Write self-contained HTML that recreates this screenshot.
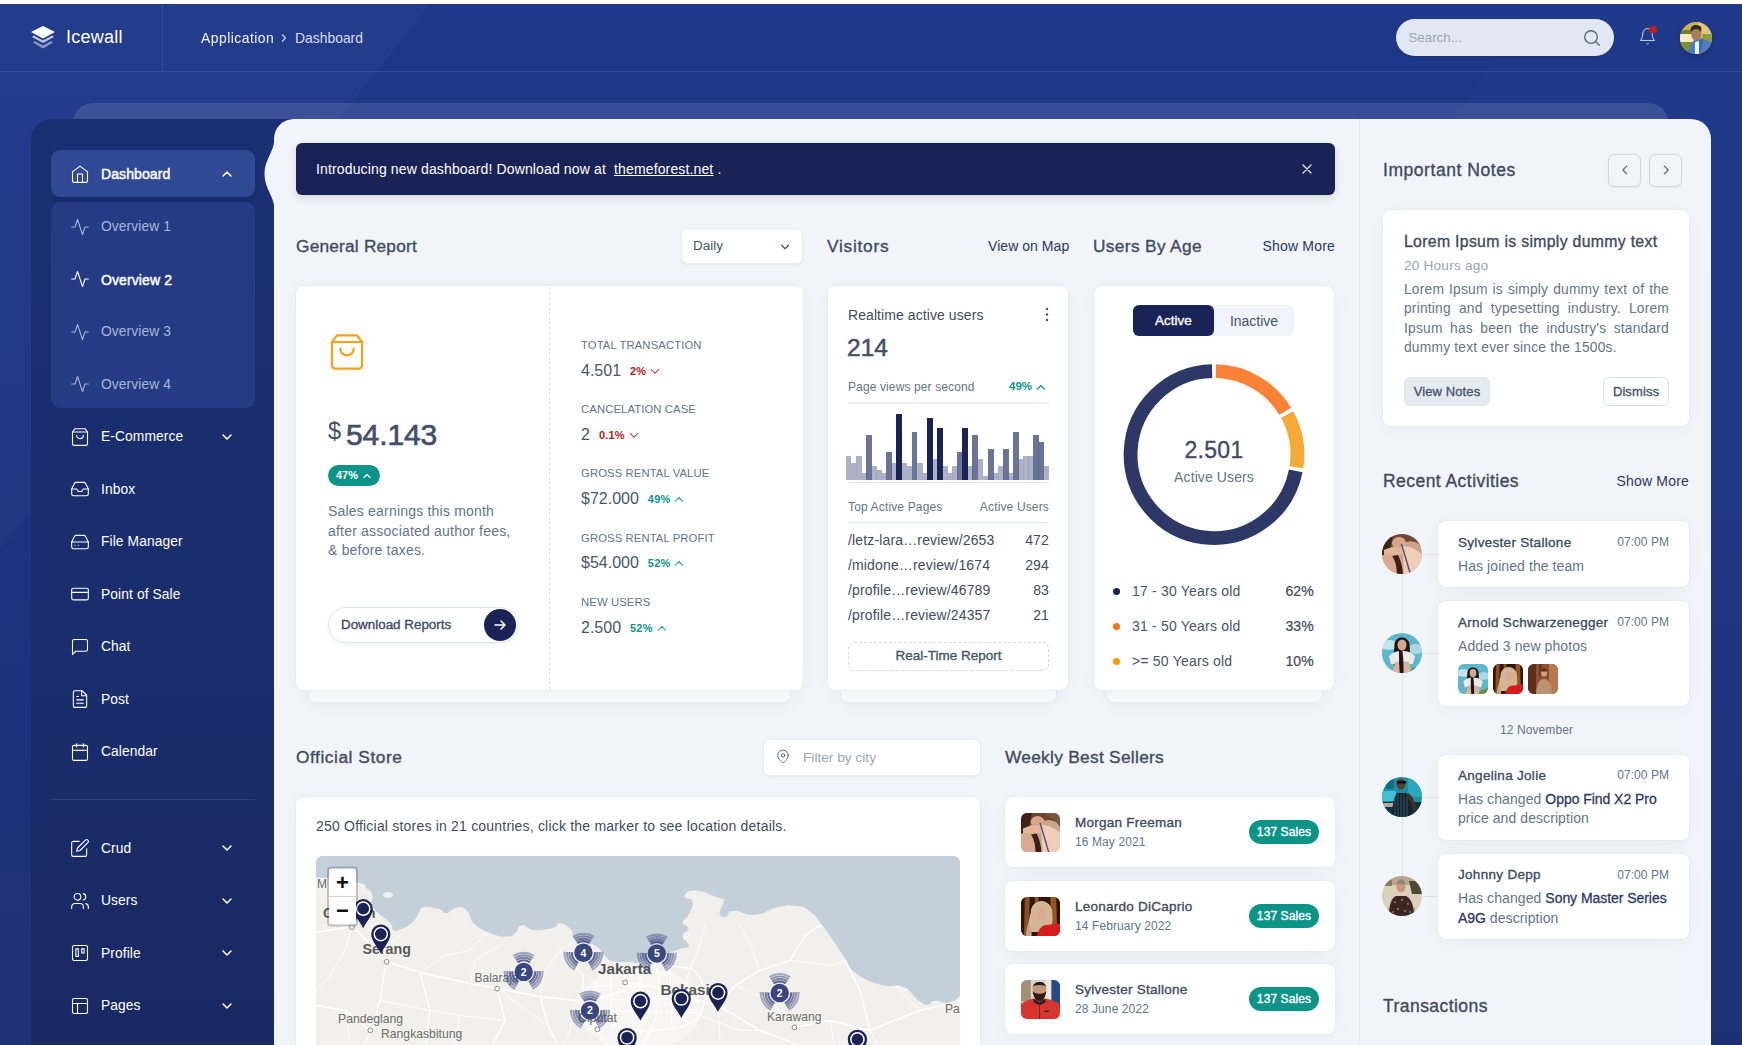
<!DOCTYPE html>
<html lang="en">
<head>
<meta charset="utf-8">
<title>Dashboard - Icewall</title>
<style>
*{box-sizing:border-box;margin:0;padding:0}
html,body{width:1742px;height:1045px;overflow:hidden}
body{font-family:"Liberation Sans",sans-serif;font-size:14px;color:#3c485a;background:#fff;position:relative}
.abs{position:absolute}
.bg{position:absolute;left:0;top:4px;width:1742px;height:1041px;background:linear-gradient(180deg,#1e388a 0%,#1e3583 45%,#1c2e73 100%);overflow:hidden}
.m{-webkit-text-stroke:0.35px currentColor}
.b{font-weight:bold}
/* top bar */
.topbar{position:absolute;left:0;top:4px;width:1742px;height:68px;border-bottom:1px solid rgba(255,255,255,.09)}
.logo{position:absolute;left:0;top:0;width:163px;height:67px;border-right:1px solid rgba(255,255,255,.09)}
.logo span{position:absolute;left:66px;top:22.3px;font-size:18px;color:#fff;letter-spacing:.25px;line-height:22px}
.crumb{position:absolute;top:25.5px;font-size:13.9px;line-height:16px;color:#fff;white-space:nowrap}
.search{position:absolute;left:1396px;top:14.6px;width:218px;height:37.2px;border-radius:19px;background:#e2e8f3;box-shadow:0 1px 2px rgba(0,0,0,.1)}
.search span{position:absolute;left:12.5px;top:11px;font-size:13.3px;line-height:16px;color:#9aa5b8}
/* panels */
.fake{position:absolute;left:73px;top:103px;width:1595px;height:40px;border-radius:20px 20px 0 0;background:rgba(255,255,255,.115)}
.side{position:absolute;left:31px;top:119px;width:300px;height:926px;border-radius:20px 0 0 0;background:linear-gradient(180deg,#1b3072 0%,#1a2d6c 60%,#192962 100%)}
.content{position:absolute;left:274px;top:119px;width:1437px;height:940px;border-radius:20px 20px 0 0;background:#f1f5f9}
.rcol{position:absolute;left:1359px;top:119px;width:1px;height:940px;background:#e3e9f1}
/* menu */
.mi{position:absolute;left:51px;width:204px;height:47px;border-radius:9px;color:#fff;font-size:14px}
.mi svg.ic{position:absolute;left:19px;top:14.2px;width:20px;height:20px;fill:none;stroke:currentColor;stroke-width:1.3;stroke-linecap:round;stroke-linejoin:round}
.mi span{position:absolute;left:50px;top:16.8px;line-height:16px;white-space:nowrap;font-size:13.8px;letter-spacing:.1px}
.mi span.b{font-weight:normal;font-size:14px;-webkit-text-stroke:.45px currentColor}
.mi svg.ch{position:absolute;left:168px;top:16px;width:16px;height:16px;fill:none;stroke:currentColor;stroke-width:1.5;stroke-linecap:round;stroke-linejoin:round}
.mi.act{background:#304995;box-shadow:0 3px 4px rgba(0,0,0,.08);margin-top:-1px}
.mi.act span{top:16px}.mi.act svg.ic{top:14px}.mi.act svg.ch{top:16px}
.mi.dim{color:#a9b4d6}
.sub{position:absolute;left:51px;top:202px;width:204px;height:206px;border-radius:9px;background:#253c85}
.hd{position:absolute;font-size:16.5px;line-height:20px;color:#3f4b5f;white-space:nowrap}
.lnk{position:absolute;font-size:14px;line-height:18px;color:#2b3765;white-space:nowrap}
.card{position:absolute;background:#fff;border-radius:8px;box-shadow:0 0 0 1px rgba(222,229,238,.45),0 3px 20px rgba(0,0,0,.04);border:1px solid transparent}
.stack{position:absolute;background:#f9fafc;border-radius:0 0 8px 8px;box-shadow:0 3px 20px rgba(0,0,0,.04);border:1px solid #e9edf3;border-top:none}
.t{position:absolute;white-space:nowrap}
</style>
</head>
<body>
<div class="bg">
<svg class="abs" style="left:0;top:0" width="1742" height="1041" viewBox="0 0 1742 1041">
<polygon points="0,0 430,0 0,545" fill="#ffffff" opacity=".022"/>
<polygon points="1528,0 1742,0 1742,1041 862,1041" fill="#ffffff" opacity=".012"/>
<rect x="0" y="868" width="31" height="180" fill="#8890a8" opacity=".045"/>
</svg>
</div>
<!-- TOPBAR -->
<div class="topbar">
 <div class="logo">
  <svg class="abs" style="left:30px;top:21px" width="26" height="26" viewBox="0 0 26 26">
   <polygon points="13,1 25,7 13,13.5 1,7" fill="#fff"/>
   <polygon points="3.6,10.6 13,15.6 22.4,10.6 24,12 13,18 2,12" fill="#fff" opacity=".72"/>
   <polygon points="4.6,16 13,20.4 21.4,16 23,17.4 13,23.4 3,17.4" fill="#fff" opacity=".48"/>
  </svg>
  <span>Icewall</span>
 </div>
 <div class="crumb" style="left:201px;opacity:.95;letter-spacing:.48px">Application</div>
 <svg class="abs" style="left:279px;top:28px;fill:none;stroke:#c7d0ea;stroke-width:1.3" width="10" height="12" viewBox="0 0 10 12"><path d="M3 2.5l3.5 3.5L3 9.5"/></svg>
 <div class="crumb" style="left:295px;color:#d5dcf0">Dashboard</div>
 <div class="search"><span>Search...</span>
  <svg class="abs" style="left:186px;top:9px;fill:none;stroke:#5b677b;stroke-width:1.35;stroke-linecap:round" width="20" height="20" viewBox="0 0 20 20"><circle cx="9" cy="9" r="6.3"/><path d="M13.7 13.7L17.3 17.3"/></svg>
 </div>
 <svg class="abs" style="left:1637.5px;top:23px;fill:none;stroke:#ccd5ee;stroke-width:1.25;stroke-linecap:round;stroke-linejoin:round" width="19" height="19" viewBox="0 0 24 24"><path d="M6 8a6 6 0 0 1 12 0c0 7 3 9 3 9H3s3-2 3-9"/><path d="M10.800 21a1.500 1.500 0 0 0 2.400 0"/></svg>
 <div class="abs" style="left:1648.800px;top:21.600px;width:7.800px;height:7.800px;border-radius:4px;background:#bf1e18"></div>
 <div class="abs" id="av0" style="left:1679.5px;top:17.500px;width:32px;height:32px;border-radius:16px;overflow:hidden;box-shadow:0 3px 8px rgba(0,0,0,.22)"><svg width="32" height="32" viewBox="0 0 32 32"><rect width="32" height="32" fill="#c9b552"/><rect x="18" y="0" width="14" height="14" fill="#e3c778"/><path d="M0 11c4-4 8-4 12-2v9H0z" fill="#6f7f25"/><rect x="0" y="12" width="14" height="8" fill="#f6ecbc"/><path d="M0 20h16v12H0z" fill="#7f8f2a"/><path d="M22 12h10v10h-8z" fill="#8aa03a"/><path d="M11 8c0-5 9-6 10-1c1 4 0 9-2 11h-5c-3-2-3-6-3-10z" fill="#a67c5c"/><path d="M10.500 8c0-5 8-7 11-2c0 2-1 3-1 4c-1-2-2-3-4-3c-3 0-4 1-5 3z" fill="#3a2b22"/><path d="M8 32c1-9 4-13 7-14l6-1c5 0 10 3 11 6v9z" fill="#4a7dc0"/><path d="M15 20l4-1 1 13h-5z" fill="#f2f4f8"/><path d="M19 18l4-2c-1 6-2 11-3 16h-1z" fill="#3a68a8"/></svg></div>
</div>
<!-- PANELS -->
<div class="fake"></div>
<div class="side"></div>
<div class="content"></div>
<div class="rcol"></div>
<svg width="0" height="0" style="position:absolute">
<defs>
<filter id="bl" x="-5%" y="-5%" width="110%" height="110%"><feGaussianBlur stdDeviation=".5"/></filter>
<symbol id="avA" viewBox="0 0 40 40"><rect width="40" height="40" fill="#caa58c"/><g filter="url(#bl)">
<path d="M-2 -2h44v16c-6-6-12-8-18-6C16 10 8 14 -2 17z" fill="#6a4631"/>
<path d="M-2 -2h14c-2 6-4 13-4 20l-10 5z" fill="#3d2216"/>
<ellipse cx="17" cy="9" rx="7" ry="6" fill="#d9a58a"/>
<path d="M2 16c8-4 18-4 26-2l-2 6c-8 0-16 1-24 4z" fill="#e3b69c"/>
<path d="M20 12c8 0 16 4 22 10v20H22c0-10-1-20-2-30z" fill="#efcdb6"/>
<path d="M26 2c6 2 12 8 16 16V-2H24z" fill="#7a5640"/>
<path d="M-2 22c5-2 10-2 13 0c2 6 3 12 3 20H-2z" fill="#d9aa90"/>
<path d="M10 22c3 4 5 10 5 20h6c0-8-2-15-5-21z" fill="#3a2016"/>
<path d="M19.500 10l9.500 32" stroke="#56567c" stroke-width="1.500"/></g></symbol>
<symbol id="avB" viewBox="0 0 40 40"><rect width="40" height="40" fill="#2e1409"/><g filter="url(#bl)">
<path d="M4 -2h5l-1 44H3z" fill="#a85c1e" opacity=".8"/><path d="M30 -2h6l1 32h-6z" fill="#b4641f" opacity=".8"/><path d="M14 -2h4v12h-4z" fill="#c9781f" opacity=".6"/>
<path d="M10 16c0-8 6-12 11-12s11 4 11 12c1 8 0 14-3 20H9c-2-6-1-14 1-20z" fill="#d2b796"/>
<path d="M8 26c2 4 3 9 3 16H5c0-6 1-12 3-16z" fill="#c4a786"/>
<ellipse cx="21" cy="17" rx="5" ry="6.500" fill="#dba892"/>
<path d="M16 42c1-7 4-12 8-13l18-2v15z" fill="#d81e1e"/></g></symbol>
<symbol id="avC" viewBox="0 0 40 40"><rect width="40" height="40" fill="#d6d1c8"/><g filter="url(#bl)">
<rect x="-2" y="-2" width="12" height="24" fill="#a58f78"/><rect x="31" y="-2" width="11" height="44" fill="#27468a"/><rect x="24" y="-2" width="7" height="22" fill="#ece7db"/>
<ellipse cx="19" cy="10" rx="7" ry="8" fill="#c69479"/>
<path d="M12 8c0-8 14-8 14 0l-1-2c-4-1-8-1-12 0z" fill="#2a1b16"/>
<path d="M12 11c1 8 4 11 7 11s6-3 7-11c-2 3-5 3-7 3s-5 0-7-3z" fill="#2b1c18"/>
<path d="M-2 42V26c5-4 10-6 15-7l6 3 6-3c5 1 11 3 17 7v16z" fill="#d8342f"/>
<path d="M13 19l6 4 6-4v4l-6 3-6-3z" fill="#23232d"/><path d="M19 25v17" stroke="#8e1c1c" stroke-width="1"/><path d="M24 32h5" stroke="#222" stroke-width="1.200"/></g></symbol>
<symbol id="av2" viewBox="0 0 40 40"><rect width="40" height="40" fill="#5fb7cb"/><g filter="url(#bl)">
<ellipse cx="7" cy="12" rx="9" ry="5" fill="#d4ecf1" opacity=".85"/><ellipse cx="34" cy="16" rx="8" ry="5" fill="#c4e3ea" opacity=".75"/>
<path d="M12.500 12c0-10 15-10 15 0c1 8 0 17-2 28h-4l1-17h-6l-1 19h-3c-1-10-1-21 0-30z" fill="#1f1513"/>
<ellipse cx="20" cy="12" rx="4.500" ry="5.500" fill="#d3a88f"/>
<path d="M7 23c4-4 8-5 13-5s9 1 13 5l-2 8H9z" fill="#ecebe7"/>
<path d="M13 29c4-1 9-1 14 0l3 13H10z" fill="#d9b39b"/>
<path d="M17 18c0 8 0 15 1 24h3.500c0-9 0-15-1-24z" fill="#1f1513"/>
<path d="M29 36l13-5v11H27z" fill="#6a8f4a"/></g></symbol>
<symbol id="av3" viewBox="0 0 40 40"><rect width="40" height="40" fill="#1a8fa3"/><g filter="url(#bl)">
<rect x="-2" y="14" width="16" height="10" fill="#3fc0d0"/><rect x="26" y="-2" width="16" height="22" fill="#2aa9bd"/><rect x="4" y="-2" width="8" height="14" fill="#0f6f82"/><rect x="-2" y="25" width="44" height="17" fill="#0d3640"/>
<rect x="-2" y="26" width="14" height="4" fill="#b9a89a"/>
<ellipse cx="19" cy="7" rx="4.500" ry="5.500" fill="#5b3a2a"/><path d="M15 4h9v2.600h-9z" fill="#111"/>
<path d="M10 42c0-11 1-20 5-26h9c4 3 6 8 7 14l-1 12z" fill="#14242c"/>
<path d="M26 16c4 2 7 8 8 16l-3 2c-1-6-3-11-6-14z" fill="#4a2e22"/>
<path d="M13 21v21M16 17v25M19 17v25M22 17v25M25 19v23" stroke="#3a6874" stroke-width=".8"/></g></symbol>
<symbol id="av4" viewBox="0 0 40 40"><rect width="40" height="40" fill="#dacfba"/><g filter="url(#bl)">
<rect x="-2" y="-2" width="44" height="11" fill="#b9a78c"/><path d="M27 5h15v13H30z" fill="#4f4a38"/><path d="M-2 4h12v6H-2z" fill="#8a7a60"/>
<ellipse cx="19" cy="10.500" rx="4.500" ry="5.500" fill="#c9977a"/><path d="M14.500 8c1-6 8-6 9 0z" fill="#8f857c"/>
<path d="M7 30l-2 12h5zM32 30l2 12h-5z" fill="#b88a70"/>
<path d="M7 42c0-13 2-20 7-22h10c5 2 8 9 8 22z" fill="#3a2620"/>
<circle cx="13" cy="26" r="1.300" fill="#8a5a40"/><circle cx="20" cy="24" r="1.300" fill="#4f7474"/><circle cx="26" cy="28" r="1.300" fill="#8a5a40"/><circle cx="16" cy="33" r="1.300" fill="#4f7474"/><circle cx="23" cy="35" r="1.300" fill="#8a5a40"/><circle cx="28" cy="36" r="1.200" fill="#4f7474"/><circle cx="11" cy="36" r="1.200" fill="#8a5a40"/></g></symbol>
<symbol id="th3" viewBox="0 0 30 30"><rect width="30" height="30" fill="#8e4f33"/><g filter="url(#bl)">
<rect x="-2" y="-2" width="10" height="34" fill="#5e2f1f"/><rect x="21" y="-2" width="11" height="34" fill="#b9794f"/><rect x="11" y="-2" width="3" height="14" fill="#6a3a25"/>
<ellipse cx="16" cy="9" rx="3" ry="3.600" fill="#d1a283"/><path d="M13.300 7.500c.7-4 5-4 5.700 0z" fill="#4a3020"/>
<path d="M8 32c0-11 3-17 8-17s8 6 8 17z" fill="#b89272"/></g></symbol>
</defs>
</svg>
<!--SIDEMENU-->
<svg class="abs" style="left:260px;top:139px" width="16" height="70" viewBox="0 0 16 70"><path d="M16 0H14.300C14.300 13 4.500 20 4.500 35C4.500 50 14.300 57 14.300 70H16z" fill="#f1f5f9"/></svg>
<div class="mi act" style="top:150.5px"><svg class="ic" viewBox="0 0 24 24"><path d="M3 9.5l9-7 9 7V20a2 2 0 0 1-2 2H5a2 2 0 0 1-2-2z"/><path d="M9 22V12h6v10"/></svg><span class="b">Dashboard</span><svg class="ch" viewBox="0 0 16 16"><path d="M4 10l4-4 4 4"/></svg></div>
<div class="sub"></div>
<div class="mi dim" style="top:202.4px"><svg class="ic" viewBox="0 0 24 24"><path d="M22 12h-4l-3 9L9 3l-3 9H2"/></svg><span>Overview 1</span></div>
<div class="mi " style="top:254.9px"><svg class="ic" viewBox="0 0 24 24"><path d="M22 12h-4l-3 9L9 3l-3 9H2"/></svg><span class="b">Overview 2</span></div>
<div class="mi dim" style="top:307.5px"><svg class="ic" viewBox="0 0 24 24"><path d="M22 12h-4l-3 9L9 3l-3 9H2"/></svg><span>Overview 3</span></div>
<div class="mi dim" style="top:360.0px"><svg class="ic" viewBox="0 0 24 24"><path d="M22 12h-4l-3 9L9 3l-3 9H2"/></svg><span>Overview 4</span></div>
<div class="mi " style="top:412.5px"><svg class="ic" viewBox="0 0 24 24"><path d="M6 2L3 6v14a2 2 0 0 0 2 2h14a2 2 0 0 0 2-2V6l-3-4z"/><path d="M3 6h18"/><path d="M16 10a4 4 0 0 1-8 0"/></svg><span>E-Commerce</span><svg class="ch" viewBox="0 0 16 16"><path d="M4 6l4 4 4-4"/></svg></div>
<div class="mi " style="top:465.0px"><svg class="ic" viewBox="0 0 24 24"><path d="M22 12h-6l-2 3h-4l-2-3H2"/><path d="M5.45 5.11L2 12v6a2 2 0 0 0 2 2h16a2 2 0 0 0 2-2v-6l-3.45-6.89A2 2 0 0 0 16.76 4H7.24a2 2 0 0 0-1.79 1.11z"/></svg><span>Inbox</span></div>
<div class="mi " style="top:517.5px"><svg class="ic" viewBox="0 0 24 24"><path d="M22 12H2"/><path d="M5.45 5.11L2 12v6a2 2 0 0 0 2 2h16a2 2 0 0 0 2-2v-6l-3.45-6.89A2 2 0 0 0 16.76 4H7.24a2 2 0 0 0-1.79 1.11z"/><path d="M6 16h.01"/><path d="M10 16h.01"/></svg><span>File Manager</span></div>
<div class="mi " style="top:570.1px"><svg class="ic" viewBox="0 0 24 24"><rect x="2" y="5" width="20" height="14" rx="2"/><path d="M2 10h20"/></svg><span>Point of Sale</span></div>
<div class="mi " style="top:622.6px"><svg class="ic" viewBox="0 0 24 24"><path d="M21 15a2 2 0 0 1-2 2H7l-4 4V5a2 2 0 0 1 2-2h14a2 2 0 0 1 2 2z"/></svg><span>Chat</span></div>
<div class="mi " style="top:675.1px"><svg class="ic" viewBox="0 0 24 24"><path d="M14.5 2H6a2 2 0 0 0-2 2v16a2 2 0 0 0 2 2h12a2 2 0 0 0 2-2V7.5z"/><path d="M14 2v6h6"/><path d="M16 13H8"/><path d="M16 17H8"/><path d="M10 9H8"/></svg><span>Post</span></div>
<div class="mi " style="top:727.6px"><svg class="ic" viewBox="0 0 24 24"><rect x="3" y="4" width="18" height="18" rx="2"/><path d="M16 2v4"/><path d="M8 2v4"/><path d="M3 10h18"/></svg><span>Calendar</span></div>
<div class="abs" style="left:51px;top:799px;width:204px;height:1px;background:rgba(255,255,255,.09)"></div>
<div class="mi " style="top:824.2px"><svg class="ic" viewBox="0 0 24 24"><path d="M11 4H4a2 2 0 0 0-2 2v14a2 2 0 0 0 2 2h14a2 2 0 0 0 2-2v-7"/><path d="M18.5 2.5a2.12 2.12 0 0 1 3 3L12 15l-4 1 1-4z"/></svg><span>Crud</span><svg class="ch" viewBox="0 0 16 16"><path d="M4 6l4 4 4-4"/></svg></div>
<div class="mi " style="top:876.7px"><svg class="ic" viewBox="0 0 24 24"><path d="M16 21v-2a4 4 0 0 0-4-4H6a4 4 0 0 0-4 4v2"/><circle cx="9" cy="7" r="4"/><path d="M22 21v-2a4 4 0 0 0-3-3.87"/><path d="M16 3.13a4 4 0 0 1 0 7.75"/></svg><span>Users</span><svg class="ch" viewBox="0 0 16 16"><path d="M4 6l4 4 4-4"/></svg></div>
<div class="mi " style="top:929.2px"><svg class="ic" viewBox="0 0 24 24"><rect x="3" y="3" width="18" height="18" rx="2"/><rect x="7" y="7" width="3" height="9"/><rect x="14" y="7" width="3" height="5"/></svg><span>Profile</span><svg class="ch" viewBox="0 0 16 16"><path d="M4 6l4 4 4-4"/></svg></div>
<div class="mi " style="top:981.7px"><svg class="ic" viewBox="0 0 24 24"><rect x="3" y="3" width="18" height="18" rx="2"/><path d="M3 9h18"/><path d="M9 21V9"/></svg><span>Pages</span><svg class="ch" viewBox="0 0 16 16"><path d="M4 6l4 4 4-4"/></svg></div>
<!--MAIN-->
<style>
.alert{position:absolute;left:296px;top:143px;width:1039px;height:52px;border-radius:6px;background:#192355;color:#fff;box-shadow:0 3px 8px rgba(0,0,0,.12)}
.lab{position:absolute;left:581px;font-size:11.3px;line-height:14px;color:#64748b;white-space:nowrap;letter-spacing:.1px}
.val{position:absolute;left:581px;font-size:16px;line-height:20px;color:#475569;margin-top:-.5px;white-space:nowrap}
.val b{font-size:11px;margin-left:9px;position:relative;top:-1px;letter-spacing:.2px}
.val svg{width:12px;height:12px;fill:none;stroke-width:1.4;stroke-linecap:round;stroke-linejoin:round;margin-left:3px;position:relative;top:1px}
.red{color:#b91c1c;stroke:#b91c1c}.grn{color:#0d9488;stroke:#0d9488}
.row{position:absolute;left:848px;width:201px;font-size:14px;line-height:18px;color:#3f4b5f;white-space:nowrap;letter-spacing:.15px}
.row i{position:absolute;right:0;top:0;font-style:normal}
.leg{position:absolute;left:1113px;width:201px;font-size:14px;line-height:18px;color:#475569;white-space:nowrap;letter-spacing:.2px}
.leg u{position:absolute;left:0;top:6px;width:7px;height:7px;border-radius:4px}
.leg span{position:absolute;left:19px;top:0}
.m2{-webkit-text-stroke:.22px currentColor}
.leg i{position:absolute;right:0;top:0;font-style:normal;color:#3f4b5f}
</style>
<div class="alert">
 <div class="t" style="left:20px;top:17px;font-size:14px;line-height:18px;letter-spacing:.14px">Introducing new dashboard! Download now at&nbsp; <span style="text-decoration:underline">themeforest.net</span>&nbsp;.</div>
 <svg class="abs" style="left:1005px;top:20px;fill:none;stroke:#e2e8f0;stroke-width:1.3;stroke-linecap:round" width="12" height="12" viewBox="0 0 12 12"><path d="M2 2l8 8M10 2l-8 8"/></svg>
</div>
<div class="hd m" style="left:296px;top:236px;font-size:17.3px;letter-spacing:.2px">General Report</div>
<div class="card" style="left:681px;top:228px;width:122px;height:36px;border-radius:6px;border-color:#e8ecf2;box-shadow:0 1px 3px rgba(0,0,0,.05)">
 <div class="t" style="left:11px;top:8px;font-size:13.5px;line-height:18px;color:#475569">Daily</div>
 <svg class="abs" style="left:96px;top:11px;fill:none;stroke:#475569;stroke-width:1.4;stroke-linecap:round;stroke-linejoin:round" width="14" height="14" viewBox="0 0 16 16"><path d="M4 6l4 4 4-4"/></svg>
</div>
<!-- general report card -->
<div class="stack" style="left:308px;top:682px;width:483px;height:21px"></div>
<div class="card" style="left:296px;top:286px;width:507px;height:404px">
 <div class="abs" style="left:252px;top:0;width:0;height:403px;border-left:1px dashed #dfe4ec"></div>
</div>
<svg class="abs" style="left:327px;top:332px;fill:none;stroke:#f5a11a;stroke-width:1.3;stroke-linecap:round;stroke-linejoin:round" width="40" height="40" viewBox="0 0 24 24"><path d="M6 2L3 6v14a2 2 0 0 0 2 2h14a2 2 0 0 0 2-2V6l-3-4z"/><path d="M3 6h18"/><path d="M16 10a4 4 0 0 1-8 0"/></svg>
<div class="t" style="left:328px;top:417px;font-size:23.5px;line-height:28px;color:#445069">$</div>
<div class="t" style="left:346px;top:418px;font-size:30px;line-height:34px;color:#445069;letter-spacing:-.1px;-webkit-text-stroke:.7px currentColor">54.143</div>
<div class="abs" style="left:328px;top:465px;width:52px;height:21px;border-radius:11px;background:#0d9488;color:#fff">
 <div class="t b" style="left:8px;top:4px;font-size:11px;line-height:13px">47%</div>
 <svg class="abs" style="left:33px;top:5px;fill:none;stroke:#fff;stroke-width:1.5;stroke-linecap:round;stroke-linejoin:round" width="12" height="12" viewBox="0 0 16 16"><path d="M4 10l4-4 4 4"/></svg>
</div>
<div class="t" style="left:328px;top:502px;font-size:14px;line-height:19.6px;color:#64748b;letter-spacing:.2px">Sales earnings this month<br>after associated author fees,<br>&amp; before taxes.</div>
<div class="abs" style="left:328px;top:607px;width:190px;height:36px;border-radius:18px;background:#fff;border:1px solid #e2e8f0;box-shadow:0 2px 4px rgba(0,0,0,.05)">
 <div class="t m" style="left:12px;top:8px;font-size:13.4px;line-height:18px;color:#3f4b5f">Download Reports</div>
 <div class="abs" style="left:155px;top:1px;width:32px;height:32px;border-radius:16px;background:#192355"></div>
 <svg class="abs" style="left:163px;top:9px;fill:none;stroke:#fff;stroke-width:1.5;stroke-linecap:round;stroke-linejoin:round" width="16" height="16" viewBox="0 0 16 16"><path d="M3 8h10M9 4l4 4-4 4"/></svg>
</div>
<div class="lab" style="top:338px">TOTAL TRANSACTION</div>
<div class="val" style="top:361px">4.501<b class="red">2%</b><svg class="red" viewBox="0 0 16 16"><path d="M3 6l5 5 5-5"/></svg></div>
<div class="lab" style="top:402px">CANCELATION CASE</div>
<div class="val" style="top:425px">2<b class="red">0.1%</b><svg class="red" viewBox="0 0 16 16"><path d="M3 6l5 5 5-5"/></svg></div>
<div class="lab" style="top:466px">GROSS RENTAL VALUE</div>
<div class="val" style="top:489px">$72.000<b class="grn">49%</b><svg class="grn" viewBox="0 0 16 16"><path d="M3 11l5-5 5 5"/></svg></div>
<div class="lab" style="top:530.5px">GROSS RENTAL PROFIT</div>
<div class="val" style="top:553.5px">$54.000<b class="grn">52%</b><svg class="grn" viewBox="0 0 16 16"><path d="M3 11l5-5 5 5"/></svg></div>
<div class="lab" style="top:595px">NEW USERS</div>
<div class="val" style="top:618px">2.500<b class="grn">52%</b><svg class="grn" viewBox="0 0 16 16"><path d="M3 11l5-5 5 5"/></svg></div>
<!-- visitors -->
<div class="hd m" style="left:827px;top:236px;font-size:17.3px;letter-spacing:.74px">Visitors</div>
<div class="lnk" style="left:988px;top:237px;letter-spacing:.05px">View on Map</div>
<div class="stack" style="left:840px;top:682px;width:217px;height:21px"></div>
<div class="card" style="left:828px;top:286px;width:240px;height:404px"></div>
<div class="t" style="left:848px;top:305.500px;font-size:14px;line-height:18px;color:#3f4b5f;letter-spacing:.08px">Realtime active users</div>
<svg class="abs" style="left:1044px;top:307px" width="6" height="16" viewBox="0 0 6 16" fill="#475569"><circle cx="3" cy="2" r="1.2"/><circle cx="3" cy="7.5" r="1.2"/><circle cx="3" cy="13" r="1.2"/></svg>
<div class="t" style="left:847px;top:334px;font-size:24.500px;line-height:28px;color:#445069;-webkit-text-stroke:.55px currentColor">214</div>
<div class="t" style="left:848px;top:380px;font-size:12px;line-height:15px;color:#64748b;letter-spacing:.12px">Page views per second</div>
<div class="t b grn" style="left:1009px;top:379px;font-size:11.5px;line-height:15px">49%</div>
<svg class="abs grn" style="left:1035px;top:381px;fill:none;stroke-width:1.5;stroke-linecap:round;stroke-linejoin:round" width="12" height="12" viewBox="0 0 16 16"><path d="M3 11l5-5 5 5"/></svg>
<div class="abs" style="left:848px;top:402px;width:201px;height:2px;background:#edf1f6"></div>
<svg class="abs" style="left:0;top:0" width="1742" height="1045" viewBox="0 0 1742 1045" shape-rendering="crispEdges"><rect x="845.60" y="456.12" width="5.88" height="23.88" fill="#a3a9c0" opacity="0.9"/><rect x="850.68" y="463.01" width="5.88" height="16.99" fill="#a3a9c0" opacity="0.9"/><rect x="855.75" y="456.12" width="5.88" height="23.88" fill="#a3a9c0" opacity="0.9"/><rect x="860.83" y="472.96" width="5.88" height="7.04" fill="#a3a9c0" opacity="0.9"/><rect x="870.98" y="466.22" width="5.88" height="13.78" fill="#a3a9c0" opacity="0.9"/><rect x="876.05" y="469.59" width="5.88" height="10.41" fill="#a3a9c0" opacity="0.9"/><rect x="881.12" y="472.96" width="5.88" height="7.04" fill="#a3a9c0" opacity="0.9"/><rect x="891.27" y="463.01" width="5.88" height="16.99" fill="#a3a9c0" opacity="0.9"/><rect x="901.43" y="463.01" width="5.88" height="16.99" fill="#a3a9c0" opacity="0.9"/><rect x="906.50" y="466.22" width="5.88" height="13.78" fill="#a3a9c0" opacity="0.9"/><rect x="916.65" y="463.01" width="5.88" height="16.99" fill="#a3a9c0" opacity="0.9"/><rect x="921.73" y="472.96" width="5.88" height="7.04" fill="#a3a9c0" opacity="0.9"/><rect x="931.88" y="459.34" width="5.88" height="20.66" fill="#a3a9c0" opacity="0.9"/><rect x="942.02" y="466.22" width="5.88" height="13.78" fill="#a3a9c0" opacity="0.9"/><rect x="947.10" y="472.96" width="5.88" height="7.04" fill="#a3a9c0" opacity="0.9"/><rect x="952.18" y="466.22" width="5.88" height="13.78" fill="#a3a9c0" opacity="0.9"/><rect x="967.40" y="466.22" width="5.88" height="13.78" fill="#a3a9c0" opacity="0.9"/><rect x="977.55" y="459.34" width="5.88" height="20.66" fill="#a3a9c0" opacity="0.9"/><rect x="982.62" y="476.48" width="5.88" height="3.52" fill="#a3a9c0" opacity="0.9"/><rect x="992.77" y="472.96" width="5.88" height="7.04" fill="#a3a9c0" opacity="0.9"/><rect x="997.85" y="466.22" width="5.88" height="13.78" fill="#a3a9c0" opacity="0.9"/><rect x="1008.00" y="472.96" width="5.88" height="7.04" fill="#a3a9c0" opacity="0.9"/><rect x="1018.15" y="459.34" width="5.88" height="20.66" fill="#a3a9c0" opacity="0.9"/><rect x="1023.23" y="456.12" width="5.88" height="23.88" fill="#a3a9c0" opacity="0.9"/><rect x="1028.30" y="456.12" width="5.88" height="23.88" fill="#a3a9c0" opacity="0.9"/><rect x="1043.52" y="466.22" width="5.88" height="13.78" fill="#a3a9c0" opacity="0.9"/><rect x="865.90" y="435.15" width="5.88" height="44.85" fill="#5d678f" opacity="0.92"/><rect x="886.20" y="452.45" width="5.88" height="27.55" fill="#5d678f" opacity="0.92"/><rect x="911.58" y="431.78" width="5.88" height="48.22" fill="#5d678f" opacity="0.92"/><rect x="957.25" y="452.45" width="5.88" height="27.55" fill="#5d678f" opacity="0.92"/><rect x="972.48" y="435.15" width="5.88" height="44.85" fill="#5d678f" opacity="0.92"/><rect x="987.70" y="449.08" width="5.88" height="30.92" fill="#5d678f" opacity="0.92"/><rect x="1002.93" y="449.08" width="5.88" height="30.92" fill="#5d678f" opacity="0.92"/><rect x="1013.08" y="431.78" width="5.88" height="48.22" fill="#5d678f" opacity="0.92"/><rect x="1033.38" y="435.15" width="5.88" height="44.85" fill="#5d678f" opacity="0.92"/><rect x="1038.45" y="442.04" width="5.88" height="37.96" fill="#5d678f" opacity="0.92"/><rect x="896.35" y="414.18" width="5.88" height="65.82" fill="#192355" opacity="1"/><rect x="926.80" y="418.01" width="5.88" height="61.99" fill="#192355" opacity="1"/><rect x="936.95" y="428.26" width="5.88" height="51.74" fill="#192355" opacity="1"/><rect x="962.33" y="428.26" width="5.88" height="51.74" fill="#192355" opacity="1"/></svg>
<div class="abs" style="left:848px;top:482px;width:201px;height:1px;background:#dfe5ee"></div>
<div class="t" style="left:848px;top:499.500px;font-size:12px;line-height:15px;color:#64748b;letter-spacing:.15px">Top Active Pages</div>
<div class="t" style="left:949px;width:100px;text-align:right;top:499.500px;font-size:12px;line-height:15px;color:#64748b;letter-spacing:.15px">Active Users</div>
<div class="abs" style="left:848px;top:522px;width:201px;height:1px;background:#e2e8f0"></div>
<div class="row" style="top:530.7px">/letz-lara…review/2653<i>472</i></div>
<div class="row" style="top:555.7px">/midone…review/1674<i>294</i></div>
<div class="row" style="top:580.7px">/profile…review/46789<i>83</i></div>
<div class="row" style="top:605.7px">/profile…review/24357<i>21</i></div>
<div class="abs" style="left:848px;top:642px;width:201px;height:29px;border:1px dashed #d5dbe5;border-radius:6px"></div>
<div class="t m" style="left:848px;width:201px;text-align:center;top:647px;font-size:13.5px;line-height:18px;color:#475569">Real-Time Report</div>
<!-- users by age -->
<div class="hd m" style="left:1093px;top:236px;font-size:17.3px;letter-spacing:.35px">Users By Age</div>
<div class="lnk" style="left:1235px;width:100px;text-align:right;top:237px;letter-spacing:.2px">Show More</div>
<div class="stack" style="left:1106px;top:682px;width:217px;height:21px"></div>
<div class="card" style="left:1094px;top:286px;width:240px;height:404px"></div>
<div class="abs" style="left:1133px;top:305px;width:161px;height:31px;border-radius:6px;background:#f1f5f9"></div>
<div class="abs" style="left:1133px;top:305px;width:81px;height:31px;border-radius:6px;background:#192355"></div>
<div class="t m" style="left:1133px;width:81px;text-align:center;top:311.500px;font-size:13.5px;line-height:18px;color:#fff">Active</div>
<div class="t" style="left:1214px;width:80px;text-align:center;top:311.500px;font-size:14px;line-height:18px;color:#475569">Inactive</div>
<svg class="abs" style="left:0;top:0" width="1742" height="1045" viewBox="0 0 1742 1045"><path d="M1215.89 371.22A83.4 83.4 0 0 1 1285.26 411.27" stroke="#fa8237" stroke-width="13.8" fill="none"/><path d="M1287.15 414.55A83.4 83.4 0 0 1 1296.44 467.22" stroke="#f6a934" stroke-width="13.8" fill="none"/><path d="M1295.78 470.94A83.4 83.4 0 1 1 1212.11 371.22" stroke="#2e3866" stroke-width="13.8" fill="none"/></svg>
<div class="t m" style="left:1164px;width:100px;text-align:center;top:436px;font-size:23px;line-height:28px;color:#3f4b5f;letter-spacing:.3px">2.501</div>
<div class="t" style="left:1164px;width:100px;text-align:center;top:468px;font-size:14px;line-height:18px;color:#64748b;letter-spacing:.1px">Active Users</div>
<div class="leg" style="top:581.500px"><u style="background:#192355"></u><span>17 - 30 Years old</span><i class="m2">62%</i></div>
<div class="leg" style="top:616.500px"><u style="background:#f97316"></u><span>31 - 50 Years old</span><i class="m2">33%</i></div>
<div class="leg" style="top:651.500px"><u style="background:#f59e0b"></u><span>&gt;= 50 Years old</span><i class="m2">10%</i></div>
<!-- official store -->
<div class="hd m" style="left:296px;top:747px;font-size:17.3px;letter-spacing:.56px">Official Store</div>
<div class="card" style="left:763px;top:739px;width:218px;height:37px;border-radius:6px;border-color:#e8ecf2;box-shadow:0 1px 3px rgba(0,0,0,.05)">
 <svg class="abs" style="left:12px;top:9px;fill:none;stroke:#5b677b;stroke-width:1.7;stroke-linecap:round;stroke-linejoin:round" width="14" height="15" viewBox="0 0 24 24"><path d="M21 10c0 7-9 13-9 13s-9-6-9-13a9 9 0 0 1 18 0z"/><circle cx="12" cy="10" r="3"/></svg>
 <div class="t" style="left:39px;top:8.5px;font-size:13.7px;line-height:18px;color:#9aa6b8">Filter by city</div>
</div>
<div class="card" style="left:296px;top:797px;width:684px;height:260px"></div>
<div class="t" style="left:316px;top:817px;font-size:14px;line-height:18px;color:#3f4b5f;letter-spacing:.2px">250 Official stores in 21 countries, click the marker to see location details.</div>
<svg class="abs" style="left:316px;top:855.6px;border-radius:6px 6px 0 0" width="644" height="190" viewBox="316 855.6 644 190"><rect x="310" y="850" width="660" height="200" fill="#c3d0da"/><clipPath id="land"><path d="M316.1 876.5C327.1 878.0 343.8 879.2 357.4 882.2C370.9 885.2 362.8 884.3 366.8 887.9C370.9 891.4 371.0 890.4 372.5 895.5C374.0 900.5 368.0 899.8 372.5 906.8C377.1 913.9 384.0 915.9 389.6 922.0C395.1 928.0 390.3 927.8 393.3 929.6C396.4 931.3 395.9 930.6 400.9 928.6C406.0 926.6 407.5 926.3 412.3 922.0C417.1 917.7 415.9 916.6 418.9 912.5C422.0 908.5 418.4 907.8 423.7 906.8C429.0 905.8 432.8 907.2 438.8 908.7C444.9 910.2 441.3 913.0 446.4 912.5C451.4 912.0 452.2 907.3 457.8 906.8C463.3 906.3 462.7 906.1 467.2 910.6C471.8 915.2 468.2 917.8 474.8 923.9C481.4 929.9 483.3 930.1 491.9 933.3C500.4 936.6 500.9 936.2 507.0 936.2C513.1 936.2 510.5 936.4 514.6 933.3C518.6 930.3 517.1 925.8 522.2 924.8C527.2 923.8 525.4 928.8 533.5 929.6C541.6 930.3 545.4 929.4 552.5 927.7C559.5 925.9 555.0 922.4 560.0 922.9C565.1 923.4 567.4 925.3 571.4 929.6C575.5 933.9 569.1 935.0 575.2 939.0C581.3 943.1 586.1 940.2 594.1 944.7C602.2 949.3 600.5 951.8 605.5 956.1C610.6 960.4 606.0 959.3 613.1 960.8C620.2 962.3 625.4 961.4 632.0 961.8C638.6 962.1 625.9 965.5 637.8 962.2C649.8 959.0 663.3 954.0 676.8 949.5C690.4 945.1 687.0 949.3 688.5 945.6C690.1 942.0 682.7 940.6 682.7 935.9C682.7 931.2 688.5 931.7 688.5 928.1C688.5 924.4 682.7 925.9 682.7 922.2C682.7 918.6 685.9 920.1 688.5 914.4C691.2 908.7 693.5 905.4 692.5 900.7C691.4 896.1 684.1 899.7 684.6 896.8C685.2 894.0 685.0 889.7 694.4 890.0C703.8 890.3 712.0 895.0 719.8 897.8C727.6 900.7 723.7 896.8 723.7 900.7C723.7 904.6 719.3 908.3 719.8 912.5C720.3 916.6 722.0 916.9 725.6 916.4C729.3 915.8 725.6 911.0 733.4 910.5C741.2 910.0 742.9 915.4 754.9 914.4C766.9 913.4 767.4 908.9 778.3 906.6C789.3 904.3 787.6 904.6 795.9 905.6C804.2 906.7 802.3 905.0 809.5 910.5C816.8 916.0 817.0 918.3 823.2 926.1C829.5 933.9 827.2 931.4 833.0 939.8C838.7 948.1 838.4 948.5 844.7 957.3C850.9 966.2 846.5 965.7 856.4 973.0C866.3 980.2 869.3 981.0 881.8 984.7C894.2 988.3 893.3 982.4 903.2 986.6C913.1 990.8 912.1 995.6 918.8 1000.3C925.6 1005.0 924.4 1004.2 928.6 1004.2C932.8 1004.2 928.7 1000.8 934.4 1000.3C940.2 999.8 942.8 1004.0 950.1 1002.2C957.3 1000.4 958.6 995.8 961.8 993.4 L970 1050 L310 1050 L310 876.5Z"/></clipPath><path d="M316.1 876.5C327.1 878.0 343.8 879.2 357.4 882.2C370.9 885.2 362.8 884.3 366.8 887.9C370.9 891.4 371.0 890.4 372.5 895.5C374.0 900.5 368.0 899.8 372.5 906.8C377.1 913.9 384.0 915.9 389.6 922.0C395.1 928.0 390.3 927.8 393.3 929.6C396.4 931.3 395.9 930.6 400.9 928.6C406.0 926.6 407.5 926.3 412.3 922.0C417.1 917.7 415.9 916.6 418.9 912.5C422.0 908.5 418.4 907.8 423.7 906.8C429.0 905.8 432.8 907.2 438.8 908.7C444.9 910.2 441.3 913.0 446.4 912.5C451.4 912.0 452.2 907.3 457.8 906.8C463.3 906.3 462.7 906.1 467.2 910.6C471.8 915.2 468.2 917.8 474.8 923.9C481.4 929.9 483.3 930.1 491.9 933.3C500.4 936.6 500.9 936.2 507.0 936.2C513.1 936.2 510.5 936.4 514.6 933.3C518.6 930.3 517.1 925.8 522.2 924.8C527.2 923.8 525.4 928.8 533.5 929.6C541.6 930.3 545.4 929.4 552.5 927.7C559.5 925.9 555.0 922.4 560.0 922.9C565.1 923.4 567.4 925.3 571.4 929.6C575.5 933.9 569.1 935.0 575.2 939.0C581.3 943.1 586.1 940.2 594.1 944.7C602.2 949.3 600.5 951.8 605.5 956.1C610.6 960.4 606.0 959.3 613.1 960.8C620.2 962.3 625.4 961.4 632.0 961.8C638.6 962.1 625.9 965.5 637.8 962.2C649.8 959.0 663.3 954.0 676.8 949.5C690.4 945.1 687.0 949.3 688.5 945.6C690.1 942.0 682.7 940.6 682.7 935.9C682.7 931.2 688.5 931.7 688.5 928.1C688.5 924.4 682.7 925.9 682.7 922.2C682.7 918.6 685.9 920.1 688.5 914.4C691.2 908.7 693.5 905.4 692.5 900.7C691.4 896.1 684.1 899.7 684.6 896.8C685.2 894.0 685.0 889.7 694.4 890.0C703.8 890.3 712.0 895.0 719.8 897.8C727.6 900.7 723.7 896.8 723.7 900.7C723.7 904.6 719.3 908.3 719.8 912.5C720.3 916.6 722.0 916.9 725.6 916.4C729.3 915.8 725.6 911.0 733.4 910.5C741.2 910.0 742.9 915.4 754.9 914.4C766.9 913.4 767.4 908.9 778.3 906.6C789.3 904.3 787.6 904.6 795.9 905.6C804.2 906.7 802.3 905.0 809.5 910.5C816.8 916.0 817.0 918.3 823.2 926.1C829.5 933.9 827.2 931.4 833.0 939.8C838.7 948.1 838.4 948.5 844.7 957.3C850.9 966.2 846.5 965.7 856.4 973.0C866.3 980.2 869.3 981.0 881.8 984.7C894.2 988.3 893.3 982.4 903.2 986.6C913.1 990.8 912.1 995.6 918.8 1000.3C925.6 1005.0 924.4 1004.2 928.6 1004.2C932.8 1004.2 928.7 1000.8 934.4 1000.3C940.2 999.8 942.8 1004.0 950.1 1002.2C957.3 1000.4 958.6 995.8 961.8 993.4 L970 1050 L310 1050 L310 876.5Z" fill="#f1f0ed"/><ellipse cx="388" cy="894.500" rx="5" ry="3" fill="#f1f0ed"/><ellipse cx="640" cy="1008" rx="62" ry="42" fill="#fbfbfa" opacity=".55"/><g clip-path="url(#land)"><path d="M352 926 L345 950 L330 975 L316 990" fill="none" stroke="#fff" stroke-width=".9" stroke-linecap="round" stroke-linejoin="round"/><path d="M372 945 L395 940 L410 925" fill="none" stroke="#fff" stroke-width=".9" stroke-linecap="round" stroke-linejoin="round"/><path d="M420 972 L445 955 L470 950 L490 930" fill="none" stroke="#fff" stroke-width=".9" stroke-linecap="round" stroke-linejoin="round"/><path d="M470 983 L475 960 L500 945 L520 925" fill="none" stroke="#fff" stroke-width=".9" stroke-linecap="round" stroke-linejoin="round"/><path d="M540 996 L545 970 L560 950 L575 940" fill="none" stroke="#fff" stroke-width=".9" stroke-linecap="round" stroke-linejoin="round"/><path d="M497 988 L520 1005 L548 1025" fill="none" stroke="#fff" stroke-width=".9" stroke-linecap="round" stroke-linejoin="round"/><path d="M430 1010 L460 1015 L505 1020" fill="none" stroke="#fff" stroke-width=".9" stroke-linecap="round" stroke-linejoin="round"/><path d="M380 1000 L405 1005 L430 1010" fill="none" stroke="#fff" stroke-width=".9" stroke-linecap="round" stroke-linejoin="round"/><path d="M345 1010 L350 1040" fill="none" stroke="#fff" stroke-width=".9" stroke-linecap="round" stroke-linejoin="round"/><path d="M460 1015 L455 1050" fill="none" stroke="#fff" stroke-width=".9" stroke-linecap="round" stroke-linejoin="round"/><path d="M560 950 L583 975" fill="none" stroke="#fff" stroke-width=".9" stroke-linecap="round" stroke-linejoin="round"/><path d="M575 1000 L570 1030 L560 1050" fill="none" stroke="#fff" stroke-width=".9" stroke-linecap="round" stroke-linejoin="round"/><path d="M600 998 L640 1000 L681 998" fill="none" stroke="#fff" stroke-width=".9" stroke-linecap="round" stroke-linejoin="round"/><path d="M610 965 L612 1030" fill="none" stroke="#fff" stroke-width=".9" stroke-linecap="round" stroke-linejoin="round"/><path d="M640 962 L640 1035" fill="none" stroke="#fff" stroke-width=".9" stroke-linecap="round" stroke-linejoin="round"/><path d="M670 966 L672 1030" fill="none" stroke="#fff" stroke-width=".9" stroke-linecap="round" stroke-linejoin="round"/><path d="M596 1010 L700 1012" fill="none" stroke="#fff" stroke-width=".9" stroke-linecap="round" stroke-linejoin="round"/><path d="M600 985 L700 988" fill="none" stroke="#fff" stroke-width=".9" stroke-linecap="round" stroke-linejoin="round"/><path d="M718 1005 L720 1040" fill="none" stroke="#fff" stroke-width=".9" stroke-linecap="round" stroke-linejoin="round"/><path d="M735 985 L770 1000 L794 1027" fill="none" stroke="#fff" stroke-width=".9" stroke-linecap="round" stroke-linejoin="round"/><path d="M760 970 L750 945 L740 925" fill="none" stroke="#fff" stroke-width=".9" stroke-linecap="round" stroke-linejoin="round"/><path d="M790 960 L830 965 L845 960" fill="none" stroke="#fff" stroke-width=".9" stroke-linecap="round" stroke-linejoin="round"/><path d="M820 925 L850 935 L880 960 L900 990 L920 1010" fill="none" stroke="#fff" stroke-width=".9" stroke-linecap="round" stroke-linejoin="round"/><path d="M870 1030 L880 1050" fill="none" stroke="#fff" stroke-width=".9" stroke-linecap="round" stroke-linejoin="round"/><path d="M830 1020 L835 1050" fill="none" stroke="#fff" stroke-width=".9" stroke-linecap="round" stroke-linejoin="round"/><path d="M700 1015 L740 1030 L760 1030" fill="none" stroke="#fff" stroke-width=".9" stroke-linecap="round" stroke-linejoin="round"/><path d="M680 996 L690 970 L700 945 L705 925" fill="none" stroke="#fff" stroke-width=".9" stroke-linecap="round" stroke-linejoin="round"/><path d="M656 962 L670 945 L690 935" fill="none" stroke="#fff" stroke-width=".9" stroke-linecap="round" stroke-linejoin="round"/><path d="M625 1025 L630 1050" fill="none" stroke="#fff" stroke-width=".9" stroke-linecap="round" stroke-linejoin="round"/><path d="M900 990 L940 985 L960 975" fill="none" stroke="#fff" stroke-width=".9" stroke-linecap="round" stroke-linejoin="round"/><path d="M316 932 L352 926 L372 945 L386 961 L420 972 L470 983 L497 988 L540 996 L575 1000 L600 998 L625 990" fill="none" stroke="#fff" stroke-width="1.500" stroke-linecap="round" stroke-linejoin="round"/><path d="M386 961 L380 1000 L372 1030 L360 1050" fill="none" stroke="#fff" stroke-width="1.500" stroke-linecap="round" stroke-linejoin="round"/><path d="M420 972 L430 1010 L425 1050" fill="none" stroke="#fff" stroke-width="1.500" stroke-linecap="round" stroke-linejoin="round"/><path d="M625 982 L650 985 L680 996 L718 1005 L760 1030 L800 1045" fill="none" stroke="#fff" stroke-width="1.500" stroke-linecap="round" stroke-linejoin="round"/><path d="M583 975 L583 1010 L597 1029 L610 1050" fill="none" stroke="#fff" stroke-width="1.500" stroke-linecap="round" stroke-linejoin="round"/><path d="M656 962 L660 990 L655 1020 L640 1050" fill="none" stroke="#fff" stroke-width="1.500" stroke-linecap="round" stroke-linejoin="round"/><path d="M718 1005 L735 985 L760 970 L790 960 L805 935 L820 925" fill="none" stroke="#fff" stroke-width="1.500" stroke-linecap="round" stroke-linejoin="round"/><path d="M794 1027 L830 1020 L870 1030 L920 1010 L960 1000" fill="none" stroke="#fff" stroke-width="1.500" stroke-linecap="round" stroke-linejoin="round"/><path d="M600 975 C610 965 650 962 690 968 C705 975 708 1000 700 1015 C690 1030 640 1035 615 1025 C595 1015 590 990 600 975" fill="none" stroke="#fff" stroke-width="1.500" stroke-linecap="round" stroke-linejoin="round"/><path d="M497 988 L505 1020 L490 1050" fill="none" stroke="#fff" stroke-width="1.500" stroke-linecap="round" stroke-linejoin="round"/><path d="M316 1005 L345 1010 L370 1030" fill="none" stroke="#fff" stroke-width="1.500" stroke-linecap="round" stroke-linejoin="round"/><path d="M540 996 L548 1025 L560 1050" fill="none" stroke="#fff" stroke-width="1.500" stroke-linecap="round" stroke-linejoin="round"/><path d="M845 960 L860 990 L870 1030" fill="none" stroke="#fff" stroke-width="1.500" stroke-linecap="round" stroke-linejoin="round"/></g><text x="317" y="888" font-size="12" fill="#6b6b6b" stroke="#f4f3f0" stroke-width="2" paint-order="stroke" font-family="Liberation Sans, sans-serif">M</text><text x="323" y="917.5" font-size="14.3" font-weight="bold" fill="#5a5a5a" stroke="#f4f3f0" stroke-width="2" paint-order="stroke" font-family="Liberation Sans, sans-serif">Cilegon</text><circle cx="351.9" cy="926.7" r="2.400" fill="#fff" stroke="#8a8a8a" stroke-width="1"/><circle cx="386.6" cy="961.4" r="2.400" fill="#fff" stroke="#8a8a8a" stroke-width="1"/><circle cx="497.1" cy="988.3" r="2.400" fill="#fff" stroke="#8a8a8a" stroke-width="1"/><circle cx="625.1" cy="982.1" r="2.400" fill="#fff" stroke="#8a8a8a" stroke-width="1"/><circle cx="597.4" cy="1028.9" r="2.400" fill="#fff" stroke="#8a8a8a" stroke-width="1"/><circle cx="794.5" cy="1027" r="2.400" fill="#fff" stroke="#8a8a8a" stroke-width="1"/><circle cx="370.3" cy="1030" r="2.400" fill="#fff" stroke="#8a8a8a" stroke-width="1"/><circle cx="376" cy="1049" r="2.400" fill="#fff" stroke="#8a8a8a" stroke-width="1"/><text x="362.5" y="953.6" font-size="14.3" font-weight="bold" fill="#5a5a5a" stroke="#f4f3f0" stroke-width="2" paint-order="stroke" font-family="Liberation Sans, sans-serif">Serang</text><text x="598" y="973.6" font-size="15.2" font-weight="bold" fill="#555" stroke="#f4f3f0" stroke-width="2" paint-order="stroke" font-family="Liberation Sans, sans-serif">Jakarta</text><text x="660.5" y="995" font-size="15.3" font-weight="bold" fill="#5a5a5a" stroke="#f4f3f0" stroke-width="2" paint-order="stroke" font-family="Liberation Sans, sans-serif">Bekasi</text><text x="474.5" y="981.2" font-size="12" fill="#6b6b6b" stroke="#f4f3f0" stroke-width="2" paint-order="stroke" font-family="Liberation Sans, sans-serif">Balaraja</text><text x="338" y="1022.2" font-size="12.2" fill="#6b6b6b" stroke="#f4f3f0" stroke-width="2" paint-order="stroke" font-family="Liberation Sans, sans-serif">Pandeglang</text><text x="381" y="1037.8" font-size="12.2" fill="#6b6b6b" stroke="#f4f3f0" stroke-width="2" paint-order="stroke" font-family="Liberation Sans, sans-serif">Rangkasbitung</text><text x="578" y="1021.4" font-size="12.3" fill="#6b6b6b" stroke="#f4f3f0" stroke-width="2" paint-order="stroke" font-family="Liberation Sans, sans-serif">Ciputat</text><text x="767" y="1020.2" font-size="12.1" fill="#6b6b6b" stroke="#f4f3f0" stroke-width="2" paint-order="stroke" font-family="Liberation Sans, sans-serif">Karawang</text><text x="945" y="1012.8" font-size="12.1" fill="#6b6b6b" stroke="#f4f3f0" stroke-width="2" paint-order="stroke" font-family="Liberation Sans, sans-serif">Par</text><g transform="translate(523.7 971.5)"><path d="M-6.26 -9.64A11.5 11.5 0 0 1 6.26 -9.64" fill="none" stroke="#2e3a75" stroke-width="2.100" opacity="0.75"/><path d="M-7.62 -11.74A14 14 0 0 1 7.62 -11.74" fill="none" stroke="#2e3a75" stroke-width="2.100" opacity="0.62"/><path d="M-8.99 -13.84A16.5 16.5 0 0 1 8.99 -13.84" fill="none" stroke="#2e3a75" stroke-width="2.100" opacity="0.5"/><path d="M-10.35 -15.93A19 19 0 0 1 10.35 -15.93" fill="none" stroke="#2e3a75" stroke-width="2.100" opacity="0.4"/><path d="M11.48 -0.60A11.5 11.5 0 0 1 5.22 10.25" fill="none" stroke="#2e3a75" stroke-width="2.100" opacity="0.75"/><path d="M13.98 -0.73A14 14 0 0 1 6.36 12.47" fill="none" stroke="#2e3a75" stroke-width="2.100" opacity="0.62"/><path d="M16.48 -0.86A16.5 16.5 0 0 1 7.49 14.70" fill="none" stroke="#2e3a75" stroke-width="2.100" opacity="0.5"/><path d="M18.97 -0.99A19 19 0 0 1 8.63 16.93" fill="none" stroke="#2e3a75" stroke-width="2.100" opacity="0.4"/><path d="M-5.22 10.25A11.5 11.5 0 0 1 -11.48 -0.60" fill="none" stroke="#2e3a75" stroke-width="2.100" opacity="0.75"/><path d="M-6.36 12.47A14 14 0 0 1 -13.98 -0.73" fill="none" stroke="#2e3a75" stroke-width="2.100" opacity="0.62"/><path d="M-7.49 14.70A16.5 16.5 0 0 1 -16.48 -0.86" fill="none" stroke="#2e3a75" stroke-width="2.100" opacity="0.5"/><path d="M-8.63 16.93A19 19 0 0 1 -18.97 -0.99" fill="none" stroke="#2e3a75" stroke-width="2.100" opacity="0.4"/><circle r="9.200" fill="#3a467d"/><text y="3.700" text-anchor="middle" font-size="10.500" font-weight="bold" fill="#fff" font-family="Liberation Sans, sans-serif">2</text></g><g transform="translate(583.4 952.4)"><path d="M-6.26 -9.64A11.5 11.5 0 0 1 6.26 -9.64" fill="none" stroke="#2e3a75" stroke-width="2.100" opacity="0.75"/><path d="M-7.62 -11.74A14 14 0 0 1 7.62 -11.74" fill="none" stroke="#2e3a75" stroke-width="2.100" opacity="0.62"/><path d="M-8.99 -13.84A16.5 16.5 0 0 1 8.99 -13.84" fill="none" stroke="#2e3a75" stroke-width="2.100" opacity="0.5"/><path d="M-10.35 -15.93A19 19 0 0 1 10.35 -15.93" fill="none" stroke="#2e3a75" stroke-width="2.100" opacity="0.4"/><path d="M11.48 -0.60A11.5 11.5 0 0 1 5.22 10.25" fill="none" stroke="#2e3a75" stroke-width="2.100" opacity="0.75"/><path d="M13.98 -0.73A14 14 0 0 1 6.36 12.47" fill="none" stroke="#2e3a75" stroke-width="2.100" opacity="0.62"/><path d="M16.48 -0.86A16.5 16.5 0 0 1 7.49 14.70" fill="none" stroke="#2e3a75" stroke-width="2.100" opacity="0.5"/><path d="M18.97 -0.99A19 19 0 0 1 8.63 16.93" fill="none" stroke="#2e3a75" stroke-width="2.100" opacity="0.4"/><path d="M-5.22 10.25A11.5 11.5 0 0 1 -11.48 -0.60" fill="none" stroke="#2e3a75" stroke-width="2.100" opacity="0.75"/><path d="M-6.36 12.47A14 14 0 0 1 -13.98 -0.73" fill="none" stroke="#2e3a75" stroke-width="2.100" opacity="0.62"/><path d="M-7.49 14.70A16.5 16.5 0 0 1 -16.48 -0.86" fill="none" stroke="#2e3a75" stroke-width="2.100" opacity="0.5"/><path d="M-8.63 16.93A19 19 0 0 1 -18.97 -0.99" fill="none" stroke="#2e3a75" stroke-width="2.100" opacity="0.4"/><circle r="9.200" fill="#3a467d"/><text y="3.700" text-anchor="middle" font-size="10.500" font-weight="bold" fill="#fff" font-family="Liberation Sans, sans-serif">4</text></g><g transform="translate(656.8 953.2)"><path d="M-6.26 -9.64A11.5 11.5 0 0 1 6.26 -9.64" fill="none" stroke="#2e3a75" stroke-width="2.100" opacity="0.75"/><path d="M-7.62 -11.74A14 14 0 0 1 7.62 -11.74" fill="none" stroke="#2e3a75" stroke-width="2.100" opacity="0.62"/><path d="M-8.99 -13.84A16.5 16.5 0 0 1 8.99 -13.84" fill="none" stroke="#2e3a75" stroke-width="2.100" opacity="0.5"/><path d="M-10.35 -15.93A19 19 0 0 1 10.35 -15.93" fill="none" stroke="#2e3a75" stroke-width="2.100" opacity="0.4"/><path d="M11.48 -0.60A11.5 11.5 0 0 1 5.22 10.25" fill="none" stroke="#2e3a75" stroke-width="2.100" opacity="0.75"/><path d="M13.98 -0.73A14 14 0 0 1 6.36 12.47" fill="none" stroke="#2e3a75" stroke-width="2.100" opacity="0.62"/><path d="M16.48 -0.86A16.5 16.5 0 0 1 7.49 14.70" fill="none" stroke="#2e3a75" stroke-width="2.100" opacity="0.5"/><path d="M18.97 -0.99A19 19 0 0 1 8.63 16.93" fill="none" stroke="#2e3a75" stroke-width="2.100" opacity="0.4"/><path d="M-5.22 10.25A11.5 11.5 0 0 1 -11.48 -0.60" fill="none" stroke="#2e3a75" stroke-width="2.100" opacity="0.75"/><path d="M-6.36 12.47A14 14 0 0 1 -13.98 -0.73" fill="none" stroke="#2e3a75" stroke-width="2.100" opacity="0.62"/><path d="M-7.49 14.70A16.5 16.5 0 0 1 -16.48 -0.86" fill="none" stroke="#2e3a75" stroke-width="2.100" opacity="0.5"/><path d="M-8.63 16.93A19 19 0 0 1 -18.97 -0.99" fill="none" stroke="#2e3a75" stroke-width="2.100" opacity="0.4"/><circle r="9.200" fill="#3a467d"/><text y="3.700" text-anchor="middle" font-size="10.500" font-weight="bold" fill="#fff" font-family="Liberation Sans, sans-serif">5</text></g><g transform="translate(590.0 1010.2)"><path d="M-6.26 -9.64A11.5 11.5 0 0 1 6.26 -9.64" fill="none" stroke="#2e3a75" stroke-width="2.100" opacity="0.75"/><path d="M-7.62 -11.74A14 14 0 0 1 7.62 -11.74" fill="none" stroke="#2e3a75" stroke-width="2.100" opacity="0.62"/><path d="M-8.99 -13.84A16.5 16.5 0 0 1 8.99 -13.84" fill="none" stroke="#2e3a75" stroke-width="2.100" opacity="0.5"/><path d="M-10.35 -15.93A19 19 0 0 1 10.35 -15.93" fill="none" stroke="#2e3a75" stroke-width="2.100" opacity="0.4"/><path d="M11.48 -0.60A11.5 11.5 0 0 1 5.22 10.25" fill="none" stroke="#2e3a75" stroke-width="2.100" opacity="0.75"/><path d="M13.98 -0.73A14 14 0 0 1 6.36 12.47" fill="none" stroke="#2e3a75" stroke-width="2.100" opacity="0.62"/><path d="M16.48 -0.86A16.5 16.5 0 0 1 7.49 14.70" fill="none" stroke="#2e3a75" stroke-width="2.100" opacity="0.5"/><path d="M18.97 -0.99A19 19 0 0 1 8.63 16.93" fill="none" stroke="#2e3a75" stroke-width="2.100" opacity="0.4"/><path d="M-5.22 10.25A11.5 11.5 0 0 1 -11.48 -0.60" fill="none" stroke="#2e3a75" stroke-width="2.100" opacity="0.75"/><path d="M-6.36 12.47A14 14 0 0 1 -13.98 -0.73" fill="none" stroke="#2e3a75" stroke-width="2.100" opacity="0.62"/><path d="M-7.49 14.70A16.5 16.5 0 0 1 -16.48 -0.86" fill="none" stroke="#2e3a75" stroke-width="2.100" opacity="0.5"/><path d="M-8.63 16.93A19 19 0 0 1 -18.97 -0.99" fill="none" stroke="#2e3a75" stroke-width="2.100" opacity="0.4"/><circle r="9.200" fill="#3a467d"/><text y="3.700" text-anchor="middle" font-size="10.500" font-weight="bold" fill="#fff" font-family="Liberation Sans, sans-serif">2</text></g><g transform="translate(779.7 992.6)"><path d="M-6.26 -9.64A11.5 11.5 0 0 1 6.26 -9.64" fill="none" stroke="#2e3a75" stroke-width="2.100" opacity="0.75"/><path d="M-7.62 -11.74A14 14 0 0 1 7.62 -11.74" fill="none" stroke="#2e3a75" stroke-width="2.100" opacity="0.62"/><path d="M-8.99 -13.84A16.5 16.5 0 0 1 8.99 -13.84" fill="none" stroke="#2e3a75" stroke-width="2.100" opacity="0.5"/><path d="M-10.35 -15.93A19 19 0 0 1 10.35 -15.93" fill="none" stroke="#2e3a75" stroke-width="2.100" opacity="0.4"/><path d="M11.48 -0.60A11.5 11.5 0 0 1 5.22 10.25" fill="none" stroke="#2e3a75" stroke-width="2.100" opacity="0.75"/><path d="M13.98 -0.73A14 14 0 0 1 6.36 12.47" fill="none" stroke="#2e3a75" stroke-width="2.100" opacity="0.62"/><path d="M16.48 -0.86A16.5 16.5 0 0 1 7.49 14.70" fill="none" stroke="#2e3a75" stroke-width="2.100" opacity="0.5"/><path d="M18.97 -0.99A19 19 0 0 1 8.63 16.93" fill="none" stroke="#2e3a75" stroke-width="2.100" opacity="0.4"/><path d="M-5.22 10.25A11.5 11.5 0 0 1 -11.48 -0.60" fill="none" stroke="#2e3a75" stroke-width="2.100" opacity="0.75"/><path d="M-6.36 12.47A14 14 0 0 1 -13.98 -0.73" fill="none" stroke="#2e3a75" stroke-width="2.100" opacity="0.62"/><path d="M-7.49 14.70A16.5 16.5 0 0 1 -16.48 -0.86" fill="none" stroke="#2e3a75" stroke-width="2.100" opacity="0.5"/><path d="M-8.63 16.93A19 19 0 0 1 -18.97 -0.99" fill="none" stroke="#2e3a75" stroke-width="2.100" opacity="0.4"/><circle r="9.200" fill="#3a467d"/><text y="3.700" text-anchor="middle" font-size="10.500" font-weight="bold" fill="#fff" font-family="Liberation Sans, sans-serif">2</text></g><g transform="translate(363.2 908.3)"><path d="M0 19.500C-3 13 -9.600 7 -9.600 0A9.600 9.600 0 1 1 9.600 0C9.600 7 3 13 0 19.500Z" fill="#192355"/><circle r="6.600" fill="none" stroke="#fff" stroke-width="1.500"/></g><g transform="translate(380.8 933.7)"><path d="M0 19.500C-3 13 -9.600 7 -9.600 0A9.600 9.600 0 1 1 9.600 0C9.600 7 3 13 0 19.500Z" fill="#192355"/><circle r="6.600" fill="none" stroke="#fff" stroke-width="1.500"/></g><g transform="translate(640.4 1000.8)"><path d="M0 19.500C-3 13 -9.600 7 -9.600 0A9.600 9.600 0 1 1 9.600 0C9.600 7 3 13 0 19.500Z" fill="#192355"/><circle r="6.600" fill="none" stroke="#fff" stroke-width="1.500"/></g><g transform="translate(681.3 998.1)"><path d="M0 19.500C-3 13 -9.600 7 -9.600 0A9.600 9.600 0 1 1 9.600 0C9.600 7 3 13 0 19.500Z" fill="#192355"/><circle r="6.600" fill="none" stroke="#fff" stroke-width="1.500"/></g><g transform="translate(718.0 992.2)"><path d="M0 19.500C-3 13 -9.600 7 -9.600 0A9.600 9.600 0 1 1 9.600 0C9.600 7 3 13 0 19.500Z" fill="#192355"/><circle r="6.600" fill="none" stroke="#fff" stroke-width="1.500"/></g><g transform="translate(627.1 1037.1)"><path d="M0 19.500C-3 13 -9.600 7 -9.600 0A9.600 9.600 0 1 1 9.600 0C9.600 7 3 13 0 19.500Z" fill="#192355"/><circle r="6.600" fill="none" stroke="#fff" stroke-width="1.500"/></g><g transform="translate(857.4 1039.0)"><path d="M0 19.500C-3 13 -9.600 7 -9.600 0A9.600 9.600 0 1 1 9.600 0C9.600 7 3 13 0 19.500Z" fill="#192355"/><circle r="6.600" fill="none" stroke="#fff" stroke-width="1.500"/></g><rect x="327" y="866" width="31" height="60" rx="4" fill="rgba(0,0,0,.2)"/><rect x="329" y="868" width="27" height="56" rx="2.500" fill="#fff"/><rect x="329" y="895.500" width="27" height="1" fill="#ccc"/><text x="342.500" y="890" text-anchor="middle" font-size="22" font-weight="bold" fill="#111" font-family="Liberation Sans, sans-serif">+</text><text x="342.500" y="918" text-anchor="middle" font-size="22" font-weight="bold" fill="#111" font-family="Liberation Sans, sans-serif">−</text></svg>
<!-- best sellers -->
<div class="hd m" style="left:1005px;top:747px;font-size:17.3px;letter-spacing:.3px">Weekly Best Sellers</div>
<div class="card" style="left:1005px;top:797px;width:329.5px;height:70px"></div>
<div class="abs" style="left:1021px;top:812.5px;width:39px;height:39px;border-radius:6px;overflow:hidden"><svg width="39" height="39"><use href="#avA" width="39" height="39"/></svg></div>
<div class="t m" style="left:1075px;top:814px;font-size:13.5px;line-height:18px;color:#3f4b5f;letter-spacing:.25px">Morgan Freeman</div>
<div class="t" style="left:1075px;top:835px;font-size:12px;line-height:15px;color:#64748b;letter-spacing:.1px">16 May 2021</div>
<div class="abs" style="left:1249px;top:820px;width:70px;height:24px;border-radius:12px;background:#0d9488"></div>
<div class="t m" style="left:1249px;width:70px;text-align:center;top:824.5px;font-size:12px;line-height:15px;color:#fff;letter-spacing:.1px">137 Sales</div>
<div class="card" style="left:1005px;top:881px;width:329.5px;height:70px"></div>
<div class="abs" style="left:1021px;top:896.5px;width:39px;height:39px;border-radius:6px;overflow:hidden"><svg width="39" height="39"><use href="#avB" width="39" height="39"/></svg></div>
<div class="t m" style="left:1075px;top:898px;font-size:13.5px;line-height:18px;color:#3f4b5f;letter-spacing:.25px">Leonardo DiCaprio</div>
<div class="t" style="left:1075px;top:919px;font-size:12px;line-height:15px;color:#64748b;letter-spacing:.1px">14 February 2022</div>
<div class="abs" style="left:1249px;top:904px;width:70px;height:24px;border-radius:12px;background:#0d9488"></div>
<div class="t m" style="left:1249px;width:70px;text-align:center;top:908.5px;font-size:12px;line-height:15px;color:#fff;letter-spacing:.1px">137 Sales</div>
<div class="card" style="left:1005px;top:964px;width:329.5px;height:70px"></div>
<div class="abs" style="left:1021px;top:979.5px;width:39px;height:39px;border-radius:6px;overflow:hidden"><svg width="39" height="39"><use href="#avC" width="39" height="39"/></svg></div>
<div class="t m" style="left:1075px;top:981px;font-size:13.5px;line-height:18px;color:#3f4b5f;letter-spacing:.25px">Sylvester Stallone</div>
<div class="t" style="left:1075px;top:1002px;font-size:12px;line-height:15px;color:#64748b;letter-spacing:.1px">28 June 2022</div>
<div class="abs" style="left:1249px;top:987px;width:70px;height:24px;border-radius:12px;background:#0d9488"></div>
<div class="t m" style="left:1249px;width:70px;text-align:center;top:991.5px;font-size:12px;line-height:15px;color:#fff;letter-spacing:.1px">137 Sales</div>
<!--RIGHT-->
<style>.nb{position:absolute;top:154px;width:33px;height:33px;border:1px solid #cfd7e2;border-radius:6px;box-shadow:0 1px 2px rgba(0,0,0,.04)}
.nb svg{position:absolute;left:8.5px;top:8px;fill:none;stroke:#5b677b;stroke-width:1.4;stroke-linecap:round;stroke-linejoin:round}
.pr{color:#2b3765;-webkit-text-stroke:.28px currentColor;letter-spacing:-.05px}</style>
<div class="hd m" style="left:1383px;top:160px;font-size:17.5px;letter-spacing:.55px">Important Notes</div>
<div class="nb" style="left:1608px"><svg width="14" height="14" viewBox="0 0 16 16"><path d="M10 3.500L5.500 8l4.500 4.500"/></svg></div>
<div class="nb" style="left:1649px"><svg width="14" height="14" viewBox="0 0 16 16"><path d="M6 3.500L10.500 8 6 12.500"/></svg></div>
<div class="card" style="left:1383px;top:209.5px;width:306px;height:216.5px"></div>
<div class="t m" style="left:1404px;top:232px;font-size:15.800px;line-height:20px;color:#3f4b5f;letter-spacing:.32px">Lorem Ipsum is simply dummy text</div>
<div class="t" style="left:1404px;top:258px;font-size:13.6px;line-height:16px;color:#94a3b8;letter-spacing:.22px">20 Hours ago</div>
<div class="abs" style="left:1404px;top:280px;width:265px;font-size:13.8px;line-height:19.400px;color:#64748b;text-align:justify;letter-spacing:.2px">Lorem Ipsum is simply dummy text of the printing and typesetting industry. Lorem Ipsum has been the industry's standard dummy text ever since the 1500s.</div>
<div class="abs" style="left:1404px;top:377px;width:86px;height:29px;border-radius:6px;background:#e5eaf1;border:1px solid #e0e6ee"></div>
<div class="t m" style="left:1404px;width:86px;text-align:center;top:383px;font-size:13px;line-height:17px;color:#475569;letter-spacing:.1px">View Notes</div>
<div class="abs" style="left:1603px;top:377px;width:66px;height:29px;border-radius:6px;background:#fff;border:1px solid #d8dfe9"></div>
<div class="t m" style="left:1603px;width:66px;text-align:center;top:383px;font-size:13px;line-height:17px;color:#475569;letter-spacing:.1px">Dismiss</div>
<div class="hd m" style="left:1383px;top:471px;font-size:17.5px;letter-spacing:.45px">Recent Activities</div>
<div class="lnk" style="left:1589px;width:100px;text-align:right;top:472px;letter-spacing:.2px">Show More</div>
<div class="abs" style="left:1402px;top:560px;width:1px;height:316px;background:#dfe5ee"></div>
<div class="abs" style="left:1422px;top:554px;width:17px;height:1px;background:#dfe5ee"></div>
<div class="abs" style="left:1382px;top:534px;width:40px;height:40px;border-radius:20px;overflow:hidden"><svg width="40" height="40"><use href="#avA" width="40" height="40"/></svg></div>
<div class="card" style="left:1438px;top:520.5px;width:251px;height:66px"></div>
<div class="t m" style="left:1458px;top:533.5px;font-size:13.5px;line-height:18px;color:#3f4b5f;letter-spacing:.3px">Sylvester Stallone</div>
<div class="t" style="left:1569px;width:100px;text-align:right;top:535px;font-size:12px;line-height:15px;color:#64748b;letter-spacing:.05px">07:00 PM</div>
<div class="t" style="left:1458px;top:556.5px;font-size:14px;line-height:19.500px;color:#64748b;letter-spacing:.08px">Has joined the team</div>
<div class="abs" style="left:1422px;top:653px;width:17px;height:1px;background:#dfe5ee"></div>
<div class="abs" style="left:1382px;top:633px;width:40px;height:40px;border-radius:20px;overflow:hidden"><svg width="40" height="40"><use href="#av2" width="40" height="40"/></svg></div>
<div class="card" style="left:1438px;top:601px;width:251px;height:105px"></div>
<div class="t m" style="left:1458px;top:613.5px;font-size:13.5px;line-height:18px;color:#3f4b5f;letter-spacing:.3px">Arnold Schwarzenegger</div>
<div class="t" style="left:1569px;width:100px;text-align:right;top:615px;font-size:12px;line-height:15px;color:#64748b;letter-spacing:.05px">07:00 PM</div>
<div class="t" style="left:1458px;top:636.5px;font-size:14px;line-height:19.500px;color:#64748b;letter-spacing:.08px">Added 3 new photos</div>
<div class="abs" style="left:1458px;top:664px;width:30px;height:30px;border-radius:6px;overflow:hidden"><svg width="30" height="30"><use href="#av2" width="30" height="30"/></svg></div>
<div class="abs" style="left:1493px;top:664px;width:30px;height:30px;border-radius:6px;overflow:hidden"><svg width="30" height="30"><use href="#avB" width="30" height="30"/></svg></div>
<div class="abs" style="left:1528px;top:664px;width:30px;height:30px;border-radius:6px;overflow:hidden"><svg width="30" height="30"><use href="#th3" width="30" height="30"/></svg></div>
<div class="t" style="left:1438px;width:197px;text-align:center;top:722.500px;font-size:12px;line-height:15px;color:#64748b;letter-spacing:.1px">12 November</div>
<div class="abs" style="left:1422px;top:797px;width:17px;height:1px;background:#dfe5ee"></div>
<div class="abs" style="left:1382px;top:777px;width:40px;height:40px;border-radius:20px;overflow:hidden"><svg width="40" height="40"><use href="#av3" width="40" height="40"/></svg></div>
<div class="card" style="left:1438px;top:754.5px;width:251px;height:85.5px"></div>
<div class="t m" style="left:1458px;top:766.5px;font-size:13.5px;line-height:18px;color:#3f4b5f;letter-spacing:.3px">Angelina Jolie</div>
<div class="t" style="left:1569px;width:100px;text-align:right;top:768px;font-size:12px;line-height:15px;color:#64748b;letter-spacing:.05px">07:00 PM</div>
<div class="t" style="left:1458px;top:789.5px;font-size:14px;line-height:19.500px;color:#64748b;letter-spacing:.08px">Has changed <span class="pr">Oppo Find X2 Pro</span><br>price and description</div>
<div class="abs" style="left:1422px;top:896px;width:17px;height:1px;background:#dfe5ee"></div>
<div class="abs" style="left:1382px;top:876px;width:40px;height:40px;border-radius:20px;overflow:hidden"><svg width="40" height="40"><use href="#av4" width="40" height="40"/></svg></div>
<div class="card" style="left:1438px;top:853.5px;width:251px;height:85px"></div>
<div class="t m" style="left:1458px;top:866.0px;font-size:13.5px;line-height:18px;color:#3f4b5f;letter-spacing:.3px">Johnny Depp</div>
<div class="t" style="left:1569px;width:100px;text-align:right;top:867.5px;font-size:12px;line-height:15px;color:#64748b;letter-spacing:.05px">07:00 PM</div>
<div class="t" style="left:1458px;top:889.0px;font-size:14px;line-height:19.500px;color:#64748b;letter-spacing:.08px">Has changed <span class="pr">Sony Master Series</span><br><span class="pr">A9G</span> description</div>
<div class="hd m" style="left:1383px;top:996px;font-size:17.5px;letter-spacing:.45px">Transactions</div>
</body>
</html>
